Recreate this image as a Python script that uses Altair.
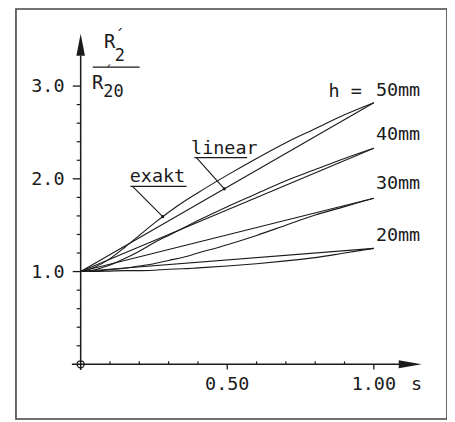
import altair as alt
import pandas as pd
import numpy as np

# ---------------- data ----------------
s_exakt = [0.0, 0.05, 0.1, 0.15, 0.2, 0.25, 0.3, 0.35, 0.4, 0.5, 0.6, 0.7, 0.8, 0.9, 1.0]
exakt_50 = [1.00, 1.05, 1.14, 1.26, 1.39, 1.52, 1.64, 1.75, 1.85, 2.04, 2.22, 2.39, 2.54, 2.69, 2.82]
exakt_40 = [1.00, 1.02, 1.07, 1.14, 1.22, 1.31, 1.39, 1.47, 1.55, 1.70, 1.84, 1.98, 2.10, 2.22, 2.33]
exakt_30 = [1.00, 1.005, 1.02, 1.035, 1.06, 1.085, 1.12, 1.155, 1.20, 1.29, 1.39, 1.50, 1.61, 1.70, 1.79]
exakt_20 = [1.00, 1.00, 1.005, 1.01, 1.01, 1.015, 1.025, 1.03, 1.04, 1.06, 1.085, 1.115, 1.15, 1.20, 1.25]
h_labels = ["50mm", "40mm", "30mm", "20mm"]
end_values = [2.82, 2.33, 1.79, 1.25]
label_v = [2.957, 2.486, 1.950, 1.393]
start_value = 1.0

x_major = [0.5, 1.0]
x_major_labels = ["0.50", "1.00"]
x_minor = [0.1, 0.2, 0.3, 0.4, 0.6, 0.7, 0.8, 0.9]
y_major = [1.0, 2.0, 3.0]
y_major_labels = ["1.0", "2.0", "3.0"]
y_minor = [0.2, 0.4, 0.6, 0.8, 1.2, 1.4, 1.6, 1.8, 2.2, 2.4, 2.6, 2.8]

x_domain = [-0.2207, 1.2496]
y_domain = [-0.5903, 3.8317]

FONT = "DejaVu Sans Mono"
INK = "#1a1a1a"
FS = 18.5

xs = alt.Scale(domain=x_domain, nice=False, zero=False)
ys = alt.Scale(domain=y_domain, nice=False, zero=False)


def X(field="s"):
    return alt.X(f"{field}:Q", scale=xs, axis=None)


def Y(field="v"):
    return alt.Y(f"{field}:Q", scale=ys, axis=None)


# ---------------- curves ----------------
rows = []
for h, end, ex in zip(h_labels, end_values, [exakt_50, exakt_40, exakt_30, exakt_20]):
    rows.append({"s": 0.0, "v": start_value, "series": h + "-linear", "o": 0})
    rows.append({"s": 1.0, "v": end, "series": h + "-linear", "o": 1})
    for i, (s, v) in enumerate(zip(s_exakt, ex)):
        rows.append({"s": s, "v": v, "series": h + "-exakt", "o": i})
curves = pd.DataFrame(rows)

lines = alt.Chart(curves).mark_line(color=INK, strokeWidth=1.1, interpolate="monotone").encode(
    x=X(), y=Y(), detail="series:N", order="o:Q",
)

# ---------------- axis lines, ticks, annotation strokes ----------------
rule_rows = [
    {"s": 0.0, "s2": 0.0, "v": -0.06, "v2": 3.33, "w": 1.5},      # y axis
    {"s": -0.03, "s2": 1.09, "v": 0.0, "v2": 0.0, "w": 1.5},      # x axis
]
for v in y_major:
    rule_rows.append({"s": -0.027, "s2": 0.0, "v": v, "v2": v, "w": 1.3})
for v in y_minor:
    rule_rows.append({"s": -0.0136, "s2": 0.0, "v": v, "v2": v, "w": 1.2})
for s in x_major:
    rule_rows.append({"s": s, "s2": s, "v": 0.0, "v2": -0.055, "w": 1.3})
for s in x_minor:
    rule_rows.append({"s": s, "s2": s, "v": 0.0, "v2": 0.032, "w": 1.2})

lin_dot_s = 0.49
lin_dot_v = start_value + (end_values[0] - start_value) * lin_dot_s
ex_dot_s = 0.28
ex_dot_v = float(np.interp(ex_dot_s, s_exakt, exakt_50))

rule_rows += [
    {"s": 0.388, "s2": 0.568, "v": 2.229, "v2": 2.229, "w": 1.2},          # linear underline
    {"s": 0.395, "s2": lin_dot_s, "v": 2.229, "v2": lin_dot_v, "w": 1.1},  # linear pointer
    {"s": 0.170, "s2": 0.361, "v": 1.918, "v2": 1.918, "w": 1.2},          # exakt underline
    {"s": 0.177, "s2": ex_dot_s, "v": 1.918, "v2": ex_dot_v, "w": 1.1},    # exakt pointer
    {"s": 0.041, "s2": 0.201, "v": 3.204, "v2": 3.204, "w": 1.2},          # fraction bar
]
rules_df = pd.DataFrame(rule_rows)
rules = alt.Chart(rules_df).mark_rule(color=INK).encode(
    x=X(), x2="s2:Q", y=Y(), y2="v2:Q",
    strokeWidth=alt.StrokeWidth("w:Q", scale=None),
)

# dots at pointer ends
dots_df = pd.DataFrame({"s": [lin_dot_s, ex_dot_s], "v": [lin_dot_v, ex_dot_v]})
dots = alt.Chart(dots_df).mark_point(filled=True, color=INK, size=10, opacity=1).encode(x=X(), y=Y())

# arrow heads
xarrow = alt.Chart(pd.DataFrame({"s": [1.124], "v": [0.0]})).mark_point(
    shape="M -1 -0.35 L 1 0 L -1 0.35 Z", filled=True, color=INK, size=529, opacity=1
).encode(x=X(), y=Y())
yarrow = alt.Chart(pd.DataFrame({"s": [0.0], "v": [3.445]})).mark_point(
    shape="M -0.39 1 L 0 -1 L 0.39 1 Z", filled=True, color=INK, size=484, opacity=1
).encode(x=X(), y=Y())

# origin circle
origin = alt.Chart(pd.DataFrame({"s": [0.0], "v": [0.0]})).mark_point(
    shape="circle", filled=False, color=INK, size=50, strokeWidth=1.3, opacity=1
).encode(x=X(), y=Y())

# ---------------- texts ----------------
center_rows = [
    {"s": 0.490, "v": 2.336, "t": "linear", "fs": FS},
    {"s": 0.262, "v": 2.025, "t": "exakt", "fs": FS},
    {"s": 1.146, "v": -0.214, "t": "s", "fs": FS},
    {"s": 0.0986, "v": 3.471, "t": "R", "fs": 19},
    {"s": 0.134, "v": 3.322, "t": "2", "fs": 17},
    {"s": 0.132, "v": 3.545, "t": "´", "fs": 16},
    {"s": 0.058, "v": 3.032, "t": "R", "fs": 19},
    {"s": 0.112, "v": 2.936, "t": "20", "fs": 17},
    {"s": 0.094, "v": 3.150, "t": "´", "fs": 14},
]
for s, t in zip(x_major, x_major_labels):
    center_rows.append({"s": s, "v": -0.215, "t": t, "fs": FS})
center_texts = pd.DataFrame(center_rows)
left_texts = pd.DataFrame({"s": [1.007] * 4, "v": label_v, "t": h_labels})
right_texts = pd.DataFrame({"s": [0.959] + [-0.055] * 3, "v": [2.946] + y_major,
                            "t": ["h ="] + y_major_labels})

t_center = alt.Chart(center_texts).mark_text(font=FONT, color=INK, align="center", baseline="middle").encode(
    x=X(), y=Y(), text="t:N", size=alt.Size("fs:Q", scale=None),
)
t_left = alt.Chart(left_texts).mark_text(font=FONT, color=INK, align="left", baseline="middle", fontSize=FS).encode(
    x=X(), y=Y(), text="t:N",
)
t_right = alt.Chart(right_texts).mark_text(font=FONT, color=INK, align="right", baseline="middle", fontSize=FS).encode(
    x=X(), y=Y(), text="t:N",
)

chart = alt.layer(lines, rules, dots, xarrow, yarrow, origin, t_center, t_left, t_right).properties(
    width=433, height=412,
    autosize=alt.AutoSizeParams(type="none"),
    padding={"left": 8, "top": 0, "right": 0, "bottom": 0},
    background="white",
).configure_view(stroke="#444", strokeWidth=1.6)

chart.save("out.html", embed_options={"renderer": "svg", "actions": False})
